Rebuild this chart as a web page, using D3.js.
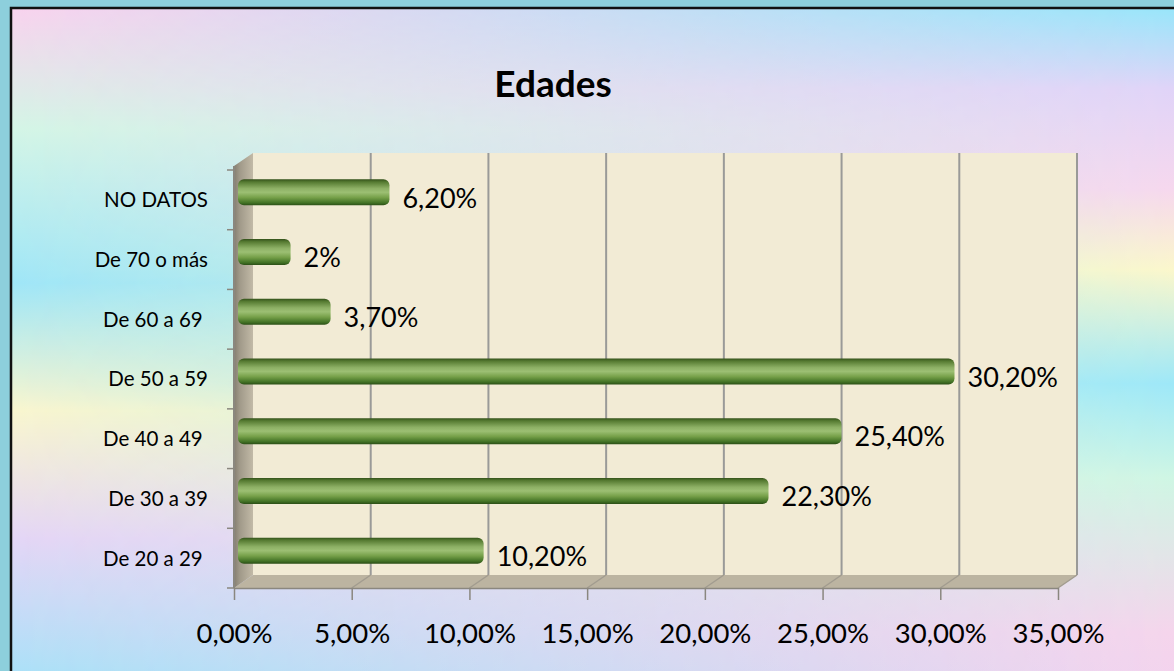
<!DOCTYPE html>
<html lang="es">
<head>
<meta charset="UTF-8">
<title>Edades</title>
<script src="https://cdnjs.cloudflare.com/ajax/libs/d3/7.8.5/d3.min.js"></script>
<style>
  html, body { margin: 0; padding: 0; background: #8dcfdc; overflow: hidden; }
  svg { display: block; }
  text { font-family: Lato, "Open Sans", sans-serif; fill: #000; }
</style>
</head>
<body>
<div id="chart"></div>
<script>
// datos (de arriba a abajo)
const categories = ["NO DATOS", "De 70 o más", "De 60 a 69 ", "De 50 a 59", "De 40 a 49 ", "De 30 a 39", "De 20 a 29 "];
const values = [6.2, 2, 3.7, 30.2, 25.4, 22.3, 10.2];
const valueLabels = ["6,20%", "2%", "3,70%", "30,20%", "25,40%", "22,30%", "10,20%"];
const xTicks = [0, 5, 10, 15, 20, 25, 30, 35];
const title = "Edades";

const width = 1174, height = 671;
const depthX = 19, depthY = 13;     // profundidad 3D
const wallTop = 153, wallBottom = 575;

const es = d3.formatLocale({decimal: ",", thousands: ".", grouping: [3], currency: ["", " €"]});
const pct = es.format(".2f");

const xBack = d3.scaleLinear().domain([0, 35]).range([253, 1077]);
const xFront = d3.scaleLinear().domain([0, 35]).range([253 - depthX, 1077 - depthX]);
const y = d3.scaleBand().domain(categories).range([170, 588]);

const svg = d3.select("#chart").append("svg")
    .attr("width", width)
    .attr("height", height);

const defs = svg.append("defs");

function vGrad(id, stops) {
    const g = defs.append("linearGradient").attr("id", id)
        .attr("x1", 0).attr("y1", 0).attr("x2", 0).attr("y2", 1);
    stops.forEach(s => g.append("stop").attr("offset", s[0]).attr("stop-color", s[1]));
    return g;
}

vGrad("bgLeft", [[0, "#fad3ee"], [0.18, "#d4f6e6"], [0.41, "#9fe6f8"], [0.6, "#faf6cf"], [0.79, "#e5d6f6"], [1, "#a8e2f8"]]);
vGrad("bgRight", [[0, "#98e6fa"], [0.12, "#e0d4f8"], [0.27, "#f6d8ee"], [0.39, "#fbf7cc"], [0.56, "#9ee8f8"], [0.7, "#cff6e4"], [0.93, "#f5d5ec"], [1, "#f3d3ee"]]);
vGrad("barGrad", [[0, "#34521b"], [0.1, "#557a31"], [0.35, "#8db065"], [0.5, "#9cbf73"], [0.7, "#76a049"], [0.9, "#437326"], [1, "#2b4f16"]]);

const fade = defs.append("linearGradient").attr("id", "fadeH");
fade.append("stop").attr("offset", 0).attr("stop-color", "#000");
fade.append("stop").attr("offset", 1).attr("stop-color", "#fff");
defs.append("mask").attr("id", "fadeMask")
    .append("rect").attr("x", 0).attr("y", 0).attr("width", width).attr("height", height)
    .attr("fill", "url(#fadeH)");

const wallGrad = defs.append("linearGradient").attr("id", "wallGrad");
wallGrad.append("stop").attr("offset", 0).attr("stop-color", "#857e70");
wallGrad.append("stop").attr("offset", 0.3).attr("stop-color", "#a09989");
wallGrad.append("stop").attr("offset", 1).attr("stop-color", "#c2baa7");

// fondo
svg.append("rect").attr("x", 11).attr("y", 8).attr("width", width).attr("height", height)
    .attr("fill", "url(#bgLeft)");
svg.append("rect").attr("x", 11).attr("y", 8).attr("width", width).attr("height", height)
    .attr("fill", "url(#bgRight)").attr("mask", "url(#fadeMask)");
svg.append("path")
    .attr("d", `M11,${height + 5}V8H${width + 5}`)
    .attr("fill", "none").attr("stroke", "#111").attr("stroke-width", 2.5);

svg.append("text")
    .attr("x", 553).attr("y", 97)
    .attr("text-anchor", "middle")
    .style("font-size", "37px").style("font-weight", "bold")
    .text(title);

// pared del fondo
svg.append("rect")
    .attr("x", xBack(0)).attr("y", wallTop)
    .attr("width", xBack(35) - xBack(0)).attr("height", wallBottom - wallTop)
    .attr("fill", "#f2ebd5");

// suelo
svg.append("path")
    .attr("d", `M${xBack(0)},${wallBottom}H${xBack(35)}L${xFront(35)},${wallBottom + depthY}H${xFront(0)}Z`)
    .attr("fill", "#bcb4a1");

// pared izquierda
svg.append("path")
    .attr("d", `M${xBack(0)},${wallTop}V${wallBottom}L${xFront(0)},${wallBottom + depthY}V${wallTop + depthY}Z`)
    .attr("fill", "url(#wallGrad)");

// lineas de cuadricula
svg.selectAll(".grid")
    .data(xTicks.slice(1))
    .enter().append("line")
    .attr("class", "grid")
    .attr("x1", d => xBack(d)).attr("x2", d => xBack(d))
    .attr("y1", wallTop).attr("y2", wallBottom)
    .attr("stroke", "#9a9a98").attr("stroke-width", 2);

svg.selectAll(".floorGrid")
    .data(xTicks.slice(1))
    .enter().append("line")
    .attr("class", "floorGrid")
    .attr("x1", d => xBack(d)).attr("x2", d => xFront(d))
    .attr("y1", wallBottom).attr("y2", wallBottom + depthY)
    .attr("stroke", "#a29c8f").attr("stroke-width", 1.5);

// eje de categorias
svg.append("line")
    .attr("x1", xFront(0)).attr("x2", xFront(0))
    .attr("y1", wallTop + depthY).attr("y2", wallBottom + depthY)
    .attr("stroke", "#8a877f").attr("stroke-width", 2);

svg.selectAll(".catTick")
    .data(categories.map(c => y(c)).concat([y.range()[1]]))
    .enter().append("line")
    .attr("class", "catTick")
    .attr("x1", xFront(0) - 7).attr("x2", xFront(0))
    .attr("y1", d => d).attr("y2", d => d)
    .attr("stroke", "#8a877f").attr("stroke-width", 1.5);

svg.selectAll(".catLabel")
    .data(categories)
    .enter().append("text")
    .attr("class", "catLabel")
    .attr("x", 208)
    .attr("y", d => y(d) + y.bandwidth() / 2)
    .attr("dy", "0.36em")
    .attr("text-anchor", "end")
    .style("white-space", "pre")
    .style("font-size", "20.5px")
    .text(d => d);

// eje de valores
const xAxis = d3.axisBottom(xFront)
    .tickValues(xTicks)
    .tickSize(12)
    .tickSizeOuter(0)
    .tickPadding(23)
    .tickFormat(d => pct(d) + "%");

const axisG = svg.append("g")
    .attr("transform", `translate(0,${wallBottom + depthY})`)
    .call(xAxis);
axisG.select(".domain").attr("stroke", "#8a877f").attr("stroke-width", 1.5);
axisG.selectAll(".tick line").attr("stroke", "#8a877f").attr("stroke-width", 1.5);
axisG.selectAll(".tick text")
    .style("font-family", "Lato, 'Open Sans', sans-serif")
    .style("font-size", "27.5px")
    .attr("fill", "#000");

// barras cilindricas
const barH = 26;
const midX = depthX / 2, midY = depthY / 2;

svg.selectAll(".bar")
    .data(values)
    .enter().append("rect")
    .attr("class", "bar")
    .attr("x", xFront(0) + 4)
    .attr("y", (d, i) => y(categories[i]) + y.bandwidth() / 2 - midY - 1 - barH / 2)
    .attr("width", d => xFront(d) + midX - xFront(0) - 4)
    .attr("height", barH)
    .attr("rx", 6).attr("ry", 6)
    .attr("fill", "url(#barGrad)");

svg.selectAll(".valLabel")
    .data(values)
    .enter().append("text")
    .attr("class", "valLabel")
    .attr("x", d => xFront(d) + midX + 13)
    .attr("y", (d, i) => y(categories[i]) + y.bandwidth() / 2 - 2)
    .attr("dy", "0.36em")
    .style("font-size", "27px")
    .text((d, i) => valueLabels[i]);
</script>
</body>
</html>
